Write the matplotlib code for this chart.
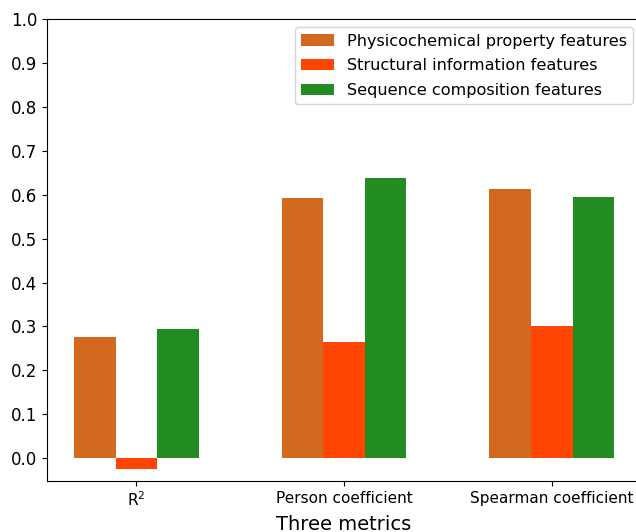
import numpy as np
import matplotlib
matplotlib.use('Agg')
import matplotlib.pyplot as plt

# Data
metrics = ['R$^2$', 'Person coefficient', 'Spearman coefficient']
series_names = ['Physicochemical property features',
                'Structural information features',
                'Sequence composition features']
physicochemical = [0.275, 0.592, 0.613]
structural = [-0.025, 0.265, 0.300]
sequence = [0.295, 0.638, 0.595]
colors = ['chocolate', 'orangered', 'forestgreen']

fig = plt.figure(figsize=(6.36, 5.32), dpi=100)
ax = fig.add_axes([0.074, 0.096, 0.934, 0.868])

x = np.arange(len(metrics))
width = 0.2
for i, (vals, name) in enumerate(zip([physicochemical, structural, sequence], series_names)):
    ax.bar(x + (i - 1) * width, vals, width, label=name, color=colors[i])

ax.set_xticks(x)
ax.set_xticklabels(metrics, fontsize=11)
ax.set_yticks(np.arange(0, 1.01, 0.1))
ax.set_yticklabels([f'{v:.1f}' for v in np.arange(0, 1.01, 0.1)], fontsize=12)
ax.set_ylim(-0.052, 1.0)
ax.set_xlabel('Three metrics', fontsize=14)
ax.legend(loc='upper right', fontsize=11.6, labelspacing=0.6)

fig.savefig('out.png', dpi=100)
